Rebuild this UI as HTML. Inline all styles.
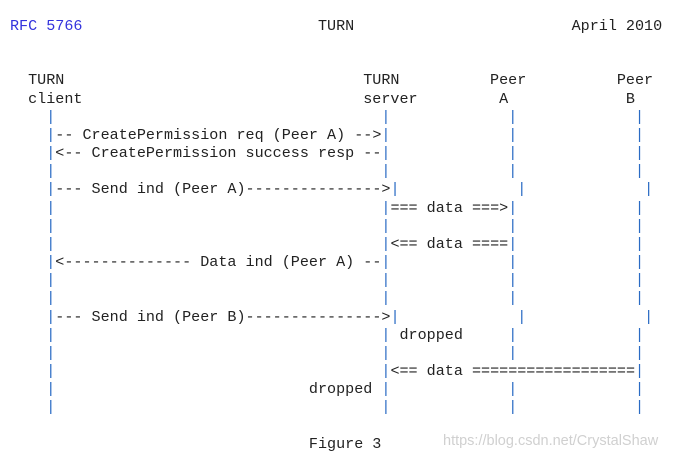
<!DOCTYPE html>
<html><head><style>
html,body{margin:0;padding:0;background:#fff;width:687px;height:456px;overflow:hidden;}
pre{position:absolute;left:10px;top:17px;margin:0;font-family:"Liberation Mono",monospace;font-size:15.1px;line-height:18.15px;color:#222;}
i{font-style:normal;color:#2a6bc4;}
.h{color:#3333dd;}
.wm{position:absolute;left:443px;top:433px;font-family:"Liberation Sans",sans-serif;font-size:14.5px;color:#d0d0d0;}
</style></head><body>
<pre><span class="h">RFC 5766</span>                          TURN                        April 2010


  TURN                                 TURN          Peer          Peer
  client                               server         A             B
    <i>|</i>                                    <i>|</i>             <i>|</i>             <i>|</i>
    <i>|</i>-- CreatePermission req (Peer A) --&gt;<i>|</i>             <i>|</i>             <i>|</i>
    <i>|</i>&lt;-- CreatePermission success resp --<i>|</i>             <i>|</i>             <i>|</i>
    <i>|</i>                                    <i>|</i>             <i>|</i>             <i>|</i>
    <i>|</i>--- Send ind (Peer A)---------------&gt;<i>|</i>             <i>|</i>             <i>|</i>
    <i>|</i>                                    <i>|</i>=== data ===&gt;<i>|</i>             <i>|</i>
    <i>|</i>                                    <i>|</i>             <i>|</i>             <i>|</i>
    <i>|</i>                                    <i>|</i>&lt;== data ====<i>|</i>             <i>|</i>
    <i>|</i>&lt;-------------- Data ind (Peer A) --<i>|</i>             <i>|</i>             <i>|</i>
    <i>|</i>                                    <i>|</i>             <i>|</i>             <i>|</i>
    <i>|</i>                                    <i>|</i>             <i>|</i>             <i>|</i>
    <i>|</i>--- Send ind (Peer B)---------------&gt;<i>|</i>             <i>|</i>             <i>|</i>
    <i>|</i>                                    <i>|</i> dropped     <i>|</i>             <i>|</i>
    <i>|</i>                                    <i>|</i>             <i>|</i>             <i>|</i>
    <i>|</i>                                    <i>|</i>&lt;== data ==================<i>|</i>
    <i>|</i>                            dropped <i>|</i>             <i>|</i>             <i>|</i>
    <i>|</i>                                    <i>|</i>             <i>|</i>             <i>|</i>

                                 Figure 3</pre>
<div class="wm">https://blog.csdn.net/CrystalShaw</div>
</body></html>
